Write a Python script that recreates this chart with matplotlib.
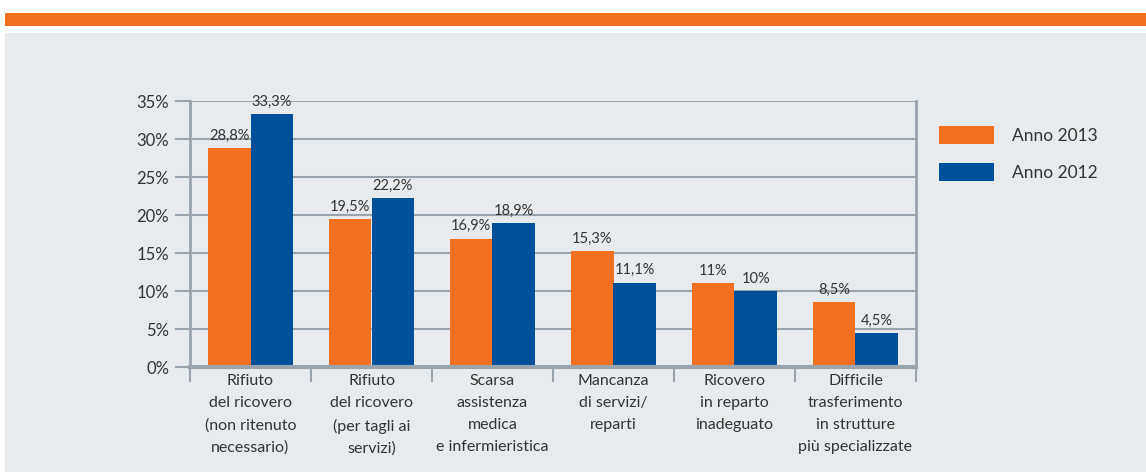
import matplotlib.pyplot as plt
import numpy as np
from matplotlib.patches import Rectangle

categories = [
    "Rifiuto\ndel ricovero\n(non ritenuto\nnecessario)",
    "Rifiuto\ndel ricovero\n(per tagli ai\nservizi)",
    "Scarsa\nassistenza\nmedica\ne infermieristica",
    "Mancanza\ndi servizi/\nreparti",
    "Ricovero\nin reparto\ninadeguato",
    "Difficile\ntrasferimento\nin strutture\npiù specializzate",
]
anno_2013 = [28.8, 19.5, 16.9, 15.3, 11.0, 8.5]
anno_2012 = [33.3, 22.2, 18.9, 11.1, 10.0, 4.5]
labels_2013 = ["28,8%", "19,5%", "16,9%", "15,3%", "11%", "8,5%"]
labels_2012 = ["33,3%", "22,2%", "18,9%", "11,1%", "10%", "4,5%"]
yticks = [0, 5, 10, 15, 20, 25, 30, 35]

orange = "#f37021"
blue = "#00519a"
grid_c = "#9aa4ac"
bg = "#e8ebee"
txt = "#333333"

plt.rcParams['font.family'] = ['Lato', 'DejaVu Sans']

W, H = 1146, 472
fig = plt.figure(figsize=(W / 100, H / 100), dpi=100)
fig.patch.set_facecolor("white")
# top orange band and grey panel (behind the axes)
fig.add_artist(Rectangle((5 / W, 1 - 26 / H), 1, 13 / H, transform=fig.transFigure,
                         color=orange, lw=0, zorder=-5))
fig.add_artist(Rectangle((5 / W, 0), 1, 1 - 33 / H, transform=fig.transFigure,
                         color=bg, lw=0, zorder=-5))

ax = fig.add_axes([190 / W, 105 / H, 726 / W, 266 / H])
ax.set_facecolor(bg)

x = np.arange(len(categories))
w = 0.35
ax.bar(x - w / 2, anno_2013, w, color=orange, label="Anno 2013", zorder=3)
ax.bar(x + w / 2, anno_2012, w, color=blue, label="Anno 2012", zorder=3)

for xi, v, s in zip(x, anno_2013, labels_2013):
    ax.text(xi - w / 2, v + 0.7, s, ha="center", va="bottom", fontsize=10.5, color=txt)
for xi, v, s in zip(x, anno_2012, labels_2012):
    ax.text(xi + w / 2, v + 0.7, s, ha="center", va="bottom", fontsize=10.5, color=txt)

ax.set_xlim(-0.5, len(categories) - 0.5)
ax.set_ylim(0, 35)
ax.set_yticks(yticks)
ax.set_yticklabels([f"{t}%" for t in yticks], fontsize=12, color=txt)
ax.yaxis.grid(True, color=grid_c, lw=1.5, zorder=0)
ax.set_axisbelow(True)
ax.tick_params(axis="y", length=11, width=1.5, color=grid_c, pad=4)

ax.set_xticks(x)
ax.set_xticklabels(categories, fontsize=11.5, color=txt, linespacing=1.72)
ax.set_xticks(np.arange(-0.5, len(categories)), minor=True)
ax.tick_params(axis="x", which="major", length=0, pad=5)
ax.tick_params(axis="x", which="minor", length=11, width=1.5, color=grid_c)

for side in ["left", "right"]:
    ax.spines[side].set_color(grid_c)
    ax.spines[side].set_linewidth(2)
ax.spines["bottom"].set_color(grid_c)
ax.spines["bottom"].set_linewidth(3)
ax.spines["bottom"].set_zorder(4)
ax.spines["top"].set_visible(False)

ax.legend(loc="upper left", bbox_to_anchor=(1.01, 0.965), frameon=False,
          fontsize=12.5, handlelength=3.2, handleheight=1.2, labelspacing=1.1,
          handletextpad=1.0, labelcolor=txt)

fig.savefig("out.png", dpi=100)
